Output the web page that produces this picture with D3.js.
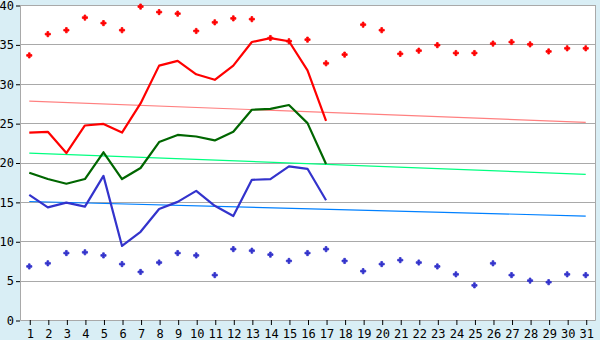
<!DOCTYPE html>
<html>
<head>
<meta charset="utf-8">
<script src="https://cdn.jsdelivr.net/npm/d3@7"></script>
<style>
  html, body { margin: 0; padding: 0; background: #d9eef5; }
  svg { display: block; }
  .tick text { font-family: "DejaVu Sans Mono", monospace; font-size: 12px; fill: #000; }
</style>
</head>
<body>
<div id="chart"></div>
<script>
// days of the month
const days = d3.range(1, 32);
const yTicks = [0, 5, 10, 15, 20, 25, 30, 35, 40];

// daily maximum (red markers)
const maxPoints = [33.6, 36.3, 36.8, 38.4, 37.7, 36.8, 39.8, 39.1, 38.9, 36.7,
  37.8, 38.3, 38.2, 35.8, 35.4, 35.6, 32.6, 33.7, 37.5, 36.8,
  33.8, 34.2, 34.9, 33.9, 33.9, 35.1, 35.3, 35.0, 34.1, 34.5, 34.5];
// daily minimum (blue markers)
const minPoints = [6.8, 7.2, 8.5, 8.6, 8.2, 7.1, 6.1, 7.3, 8.5, 8.2,
  5.7, 9.0, 8.8, 8.3, 7.5, 8.5, 9.0, 7.5, 6.2, 7.1,
  7.6, 7.3, 6.8, 5.8, 4.4, 7.2, 5.7, 5.0, 4.8, 5.8, 5.7];

// current year lines, days 1..17
const maxLine = [23.8, 23.9, 21.2, 24.7, 24.9, 23.8, 27.5, 32.3, 32.9, 31.2,
  30.5, 32.3, 35.3, 35.8, 35.4, 31.7, 25.3];
const meanLine = [18.7, 17.9, 17.3, 17.9, 21.3, 17.9, 19.3, 22.6, 23.5, 23.3,
  22.8, 23.9, 26.7, 26.8, 27.3, 25.0, 19.8];
const minLine = [15.9, 14.3, 14.9, 14.4, 18.3, 9.4, 11.2, 14.1, 15.0, 16.4,
  14.5, 13.2, 17.8, 17.9, 19.5, 19.2, 15.2];

// trend lines: value at day 1 and day 31
const trendDays = [1, 31];
const maxTrend = [27.8, 25.1];
const meanTrend = [21.2, 18.5];
const minTrend = [15.05, 13.2];

const width = 600, height = 340;
const plotLeft = 20, plotRight = 595, plotTop = 5, plotBottom = 320;

const svg = d3.select('#chart').append('svg')
  .attr('width', width)
  .attr('height', height);

const x = d3.scalePoint().domain(days).range([plotLeft, plotRight]).padding(0.5);
const y = d3.scaleLinear().domain([0, 40]).range([plotBottom, plotTop]);

// plot area
svg.append('rect')
  .attr('x', plotLeft).attr('y', plotTop)
  .attr('width', plotRight - plotLeft).attr('height', plotBottom - plotTop)
  .attr('fill', '#fff');

// grid lines
svg.append('g')
  .selectAll('line')
  .data(yTicks.filter(d => d > 0))
  .enter()
  .append('line')
  .attr('x1', plotLeft).attr('x2', plotRight)
  .attr('y1', d => Math.round(y(d)) + 0.5).attr('y2', d => Math.round(y(d)) + 0.5)
  .attr('stroke', '#a9a9a9');

// frame
svg.append('path')
  .attr('d', `M${plotLeft + 0.5},${plotTop} V${plotBottom + 0.5} H${plotRight + 0.5} V${plotTop}`)
  .attr('fill', 'none')
  .attr('stroke', '#a9a9a9');

// axes
const yAxis = svg.append('g')
  .attr('transform', `translate(${plotLeft},0.5)`)
  .call(d3.axisLeft(y).tickValues(yTicks).tickSize(4).tickPadding(2));
yAxis.select('.domain').remove();

const xAxis = svg.append('g')
  .attr('transform', `translate(0.5,${plotBottom})`)
  .call(d3.axisBottom(x).tickSize(5).tickPadding(4));
xAxis.select('.domain').remove();

const line = d3.line()
  .x((d, i) => x(days[i]))
  .y(d => y(d));

const trendLine = d3.line()
  .x((d, i) => x(trendDays[i]))
  .y(d => y(d));

// trends
[[maxTrend, '#ff8080'], [meanTrend, '#00ff80'], [minTrend, '#0080ff']].forEach(([data, color]) => {
  svg.append('path')
    .attr('d', trendLine(data))
    .attr('fill', 'none')
    .attr('stroke', color)
    .attr('stroke-width', 1.2);
});

// series lines
[[maxLine, '#ff0000'], [meanLine, '#006600'], [minLine, '#3333cc']].forEach(([data, color]) => {
  svg.append('path')
    .attr('d', line(data))
    .attr('fill', 'none')
    .attr('stroke', color)
    .attr('stroke-width', 2.2)
    .attr('stroke-linejoin', 'round');
});

// markers
const marker = d3.symbol().type(d3.symbolCross).size(15);
[[maxPoints, '#ff0000'], [minPoints, '#3333cc']].forEach(([data, color]) => {
  svg.append('g')
    .selectAll('path')
    .data(data)
    .enter()
    .append('path')
    .attr('d', marker)
    .attr('transform', (d, i) => `translate(${x(days[i])},${y(d)})`)
    .attr('fill', color)
    .attr('stroke', color)
    .attr('stroke-width', 0.8);
});
</script>
</body>
</html>
